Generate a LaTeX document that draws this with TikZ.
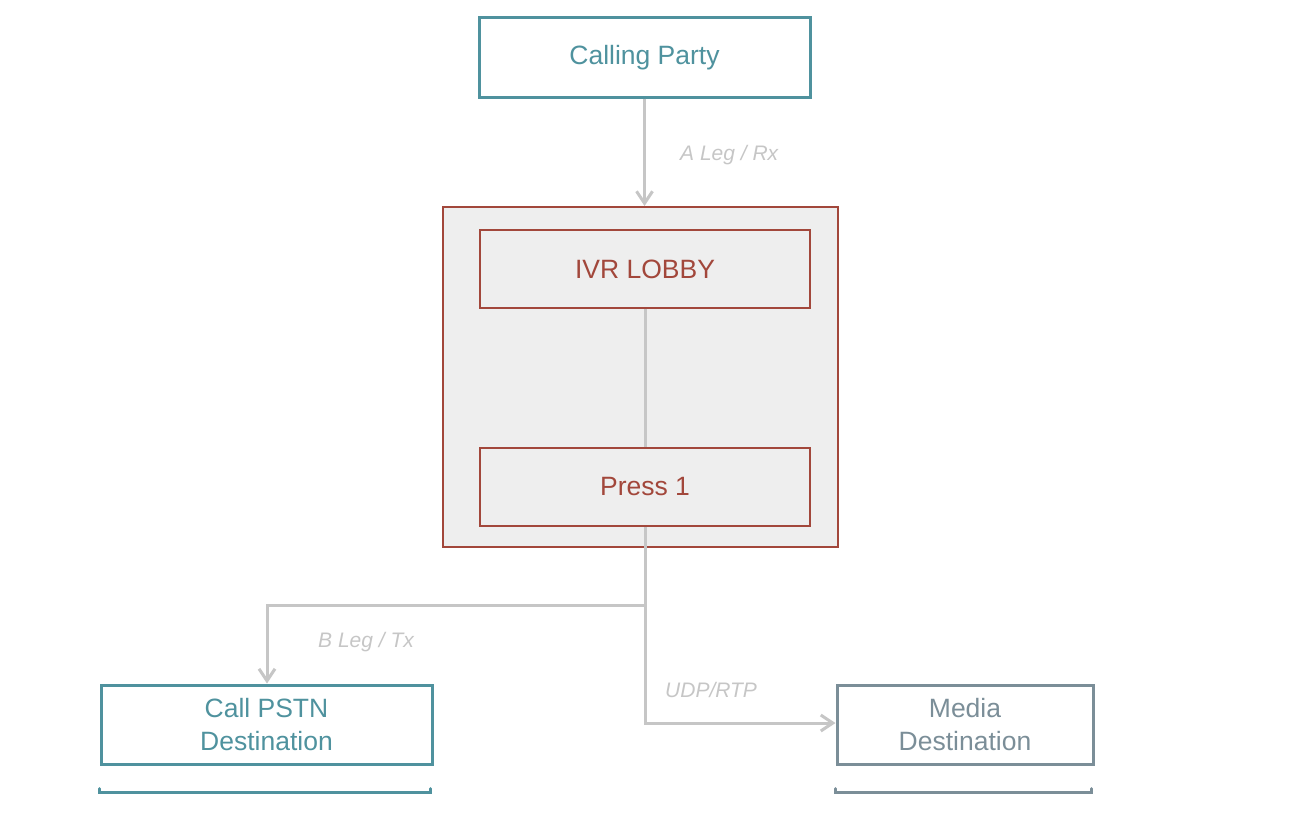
\documentclass[tikz,border=0pt]{standalone}
\usepackage{fontspec}
\setmainfont{Liberation Sans}
\usetikzlibrary{arrows.meta}
\definecolor{teal1}{HTML}{4F929E}
\definecolor{redd}{HTML}{A2473B}
\definecolor{conn}{HTML}{C6C6C6}
\definecolor{slate}{HTML}{7B8E98}
\definecolor{fillg}{HTML}{EEEEEE}
\tikzset{
  tealbox/.style={draw=teal1, line width=3pt, text=teal1, minimum width=331pt, minimum height=79pt, font=\fontsize{26.5}{33}\selectfont, align=center, inner sep=0pt},
  slatebox/.style={draw=slate, line width=3pt, text=slate, minimum width=256pt, minimum height=79pt, font=\fontsize{26.5}{33}\selectfont, align=center, inner sep=0pt},
  redbox/.style={draw=redd, line width=1.8pt, text=redd, minimum width=330pt, minimum height=78pt, font=\fontsize{26.5}{33}\selectfont, inner sep=0pt},
  outerbox/.style={draw=redd, line width=2pt, fill=fillg, minimum width=395pt, minimum height=340pt, inner sep=0pt},
  connline/.style={draw=conn, line width=3pt},
  connarrow/.style={connline, -{Straight Barb[length=12pt,width=16pt,line width=3pt]}},
  lbl/.style={text=conn, font=\fontsize{21}{25}\selectfont\itshape, inner sep=0pt},
  underl/.style={line width=3pt, line cap=round}
}
\begin{document}
\begin{tikzpicture}[x=1pt,y=-1pt]
\useasboundingbox (0,0) rectangle (1292,816);
\node[tealbox] (cp) at (644.5,57.5) {Calling Party};
\node[outerbox] (ivr) at (640.5,377) {};
\node[redbox] (lobby) at (645,269) {IVR LOBBY};
\node[redbox] (press) at (645,487) {Press 1};
\node[tealbox] (pstn) at (266.5,724.5) {Call PSTN\\Destination};
\node[slatebox] (media) at (965,724.5) {Media\\Destination};
\coordinate (split) at (645,605);
\coordinate (left) at (267,605);
\coordinate (corner) at (645,723);
\draw[connarrow] (cp.south) -- (cp.south |- ivr.north);
\draw[connline] (lobby.south) -- (press.north);
\draw[connline] (press.south) -- (split);
\draw[connarrow] (split) -- (left) -- (pstn.north -| left);
\draw[connarrow] (split) -- (corner) -- (media.west |- corner);
\node[lbl, anchor=west] (la) at (680,155) {A Leg / Rx};
\node[lbl, anchor=west] (lb) at (318,642) {B Leg / Tx};
\node[lbl, anchor=west] (lc) at (665,690) {UDP/RTP};
\draw[underl, draw=teal1] (pstn.south west) ++(0,23) -- ++(0,4) -- ++(331,0) -- ++(0,-4);
\draw[underl, draw=slate] (media.south west) ++(0,23) -- ++(0,4) -- ++(256,0) -- ++(0,-4);
\end{tikzpicture}
\end{document}
